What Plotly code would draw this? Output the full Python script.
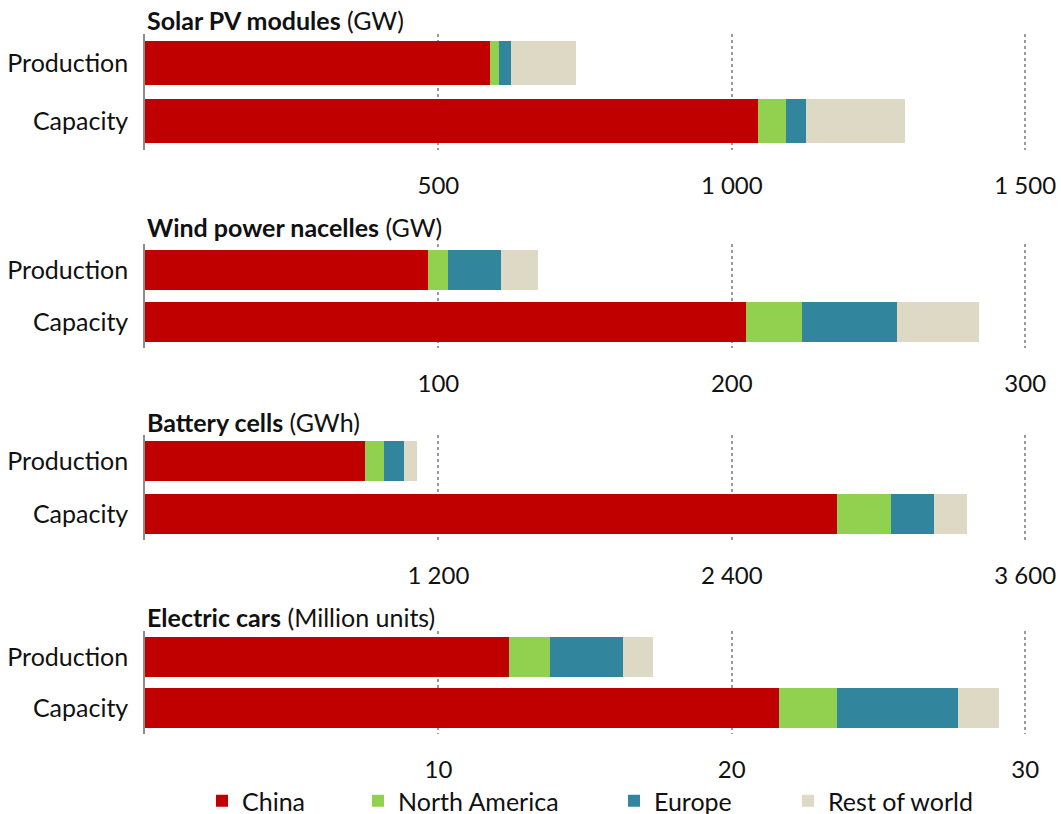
import plotly.graph_objects as go

# Categories shown on every panel
categories = ["Production", "Capacity"]

# Regions and their colours
regions = ["China", "North America", "Europe", "Rest of world"]
region_colors = ["#C00000", "#92D050", "#31859C", "#DDD9C4"]

# Solar PV modules (GW)
solar_china = [588, 1045]
solar_north_america = [16, 48]
solar_europe = [20, 33]
solar_rest = [111, 170]

# Wind power nacelles (GW)
wind_china = [96.4, 204.7]
wind_north_america = [6.9, 19.2]
wind_europe = [18.2, 32.5]
wind_rest = [12.4, 27.8]

# Battery cells (GWh)
battery_china = [899, 2830]
battery_north_america = [79, 221]
battery_europe = [81, 176]
battery_rest = [55, 135]

# Electric cars (million units)
cars_china = [12.4, 21.6]
cars_north_america = [1.4, 2.0]
cars_europe = [2.5, 4.1]
cars_rest = [1.0, 1.4]

panel_names = ["Solar PV modules", "Wind power nacelles", "Battery cells", "Electric cars"]
panel_units = ["GW", "GW", "GWh", "Million units"]
panel_tickvals = [[500, 1000, 1500], [100, 200, 300], [1200, 2400, 3600], [10, 20, 30]]
panel_ticktext = [["500", "1 000", "1 500"], ["100", "200", "300"],
                  ["1 200", "2 400", "3 600"], ["10", "20", "30"]]

panel_values = [
    [solar_china, solar_north_america, solar_europe, solar_rest],
    [wind_china, wind_north_america, wind_europe, wind_rest],
    [battery_china, battery_north_america, battery_europe, battery_rest],
    [cars_china, cars_north_america, cars_europe, cars_rest],
]

W, H = 1061, 814
FONT = "Lato"
TEXT = "#111111"
LABEL_SIZE = 25
TICK_SIZE = 24

# pixel layout of each panel (top, bottom) and title centre
panel_px = [(34, 150), (244, 348), (435, 540), (631, 734)]
title_px = [20, 227, 422, 617]
x_left_px, x_right_px = 145, 1026.5
legend_px = [202, 358, 614, 788]
legend_y_px = 801

fig = go.Figure()
legend_ids = ["legend", "legend2", "legend3", "legend4"]

for p in range(4):
    xa = "x" if p == 0 else f"x{p + 1}"
    ya = "y" if p == 0 else f"y{p + 1}"
    for r in range(4):
        fig.add_trace(go.Bar(
            y=categories,
            x=panel_values[p][r],
            orientation="h",
            name=regions[r],
            marker=dict(color=region_colors[r], line=dict(width=0)),
            xaxis=xa, yaxis=ya,
            showlegend=(p == 0),
            legend=legend_ids[r],
            hovertemplate="%{y}: %{x}<extra>" + regions[r] + "</extra>",
        ))

layout = dict(
    width=W, height=H,
    margin=dict(l=0, r=0, t=0, b=0, autoexpand=False),
    paper_bgcolor="white", plot_bgcolor="white",
    barmode="stack", bargap=0.23,
    font=dict(family=FONT, size=LABEL_SIZE, color=TEXT),
)

annotations = []
for p in range(4):
    top, bot = panel_px[p]
    xkey = "xaxis" if p == 0 else f"xaxis{p + 1}"
    ykey = "yaxis" if p == 0 else f"yaxis{p + 1}"
    xmax = panel_tickvals[p][-1]
    layout[xkey] = dict(
        domain=[x_left_px / W, x_right_px / W],
        range=[0, xmax * 1.0015],
        anchor="y" if p == 0 else f"y{p + 1}",
        tickvals=panel_tickvals[p],
        ticktext=panel_ticktext[p],
        showgrid=True, gridcolor="#9A9A9A", gridwidth=2, griddash="dot",
        zeroline=False, showline=False, ticks="",
        ticklabelstandoff=19,
        tickfont=dict(family=FONT, size=TICK_SIZE, color=TEXT),
        automargin=False,
        fixedrange=True,
    )
    layout[ykey] = dict(
        domain=[1 - bot / H, 1 - top / H],
        anchor="x" if p == 0 else f"x{p + 1}",
        autorange="reversed",
        showline=True, linecolor="#8C8C8C", linewidth=1.5,
        showgrid=False, zeroline=False, ticks="",
        ticklabelstandoff=10,
        tickfont=dict(family=FONT, size=LABEL_SIZE, color=TEXT),
        automargin=False,
        fixedrange=True,
    )
    annotations.append(dict(
        xref="paper", yref="paper",
        x=x_left_px / W, y=1 - title_px[p] / H,
        xanchor="left", yanchor="middle",
        text=f"<b>{panel_names[p]}</b> ({panel_units[p]})",
        showarrow=False,
        font=dict(family=FONT, size=LABEL_SIZE, color=TEXT),
    ))

layout["annotations"] = annotations

for i, lid in enumerate(legend_ids):
    layout[lid] = dict(
        orientation="h",
        xref="container", yref="container",
        x=legend_px[i] / W, xanchor="left",
        y=1 - legend_y_px / H, yanchor="middle",
        bgcolor="rgba(0,0,0,0)",
        font=dict(family=FONT, size=LABEL_SIZE, color=TEXT),
        itemclick=False, itemdoubleclick=False,
    )

fig.update_layout(**layout)
fig.write_html("out.html")
